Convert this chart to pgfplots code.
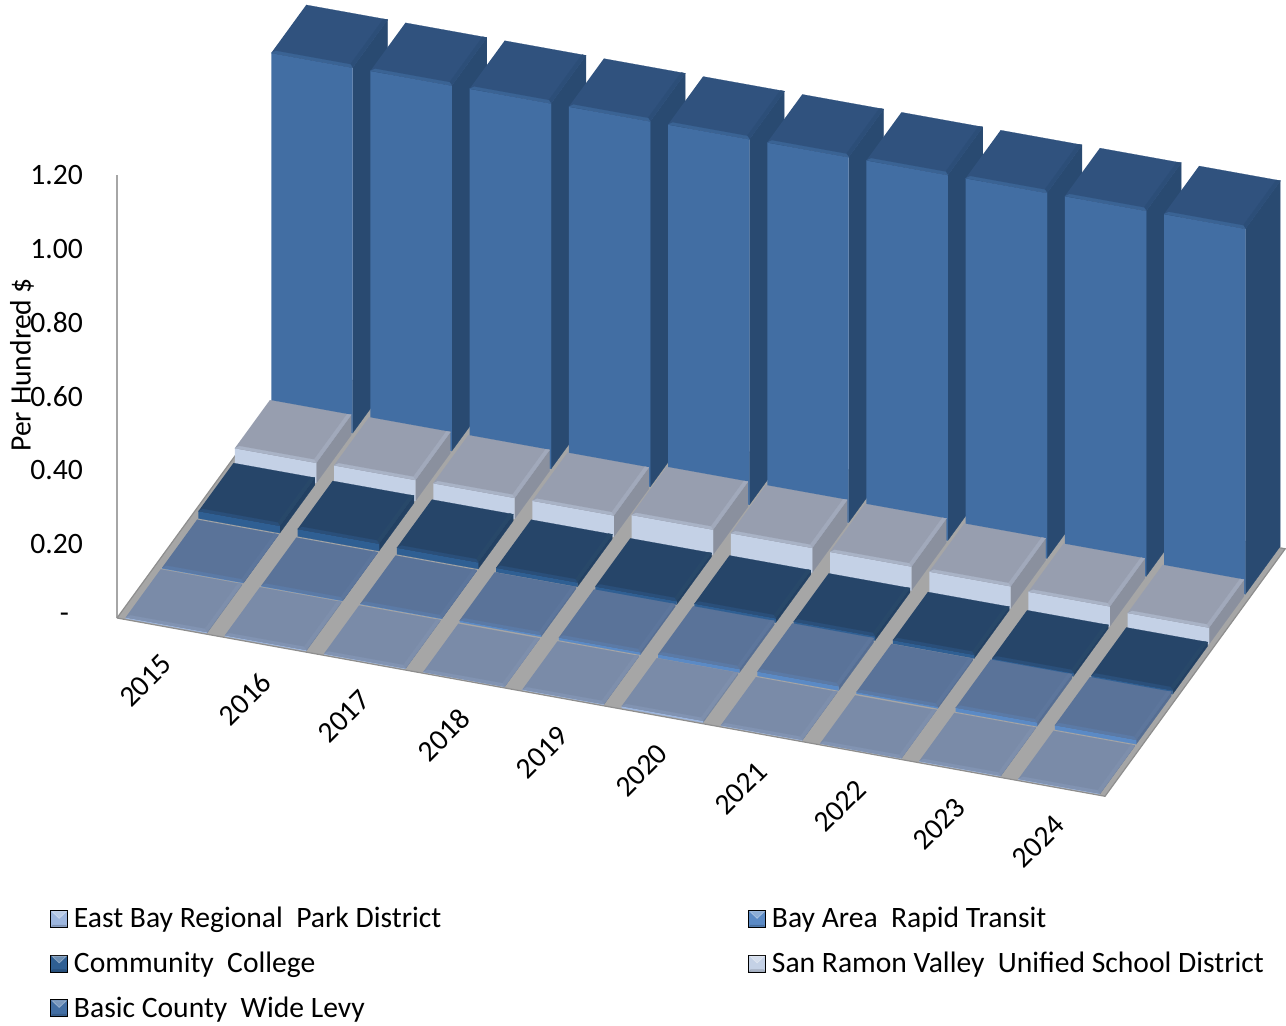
\documentclass[border=0pt]{standalone}
\usepackage{fontspec}
\setmainfont{Carlito}
\usepackage{pgfplots}
\pgfplotsset{compat=1.18}

% 1 px of the reference = 0.5pt
\definecolor{floorc}{HTML}{A6A6A6}
\definecolor{floore}{HTML}{8E8E8E}
\definecolor{baside}{HTML}{294A71}\definecolor{bafront}{HTML}{426EA3}\definecolor{batop}{HTML}{30527E}\definecolor{baedge}{HTML}{3A6394}\definecolor{baredge}{HTML}{2C4E78}
\definecolor{srside}{HTML}{8A909E}\definecolor{srfront}{HTML}{C4D1E6}\definecolor{srtop}{HTML}{979EAF}\definecolor{sredge}{HTML}{A9B3C6}\definecolor{srredge}{HTML}{A1A9BB}
\definecolor{ccside}{HTML}{234163}\definecolor{ccfront}{HTML}{2F5F93}\definecolor{cctop}{HTML}{264569}\definecolor{ccedge}{HTML}{2A4F7A}\definecolor{ccredge}{HTML}{284869}
\definecolor{btside}{HTML}{566E93}\definecolor{btfront}{HTML}{5B8AC5}\definecolor{bttop}{HTML}{5A7399}\definecolor{btedge}{HTML}{5B7AA6}\definecolor{btredge}{HTML}{5D769C}
\definecolor{ebside}{HTML}{74859F}\definecolor{ebfront}{HTML}{9DB6DE}\definecolor{ebtop}{HTML}{7A8BA8}\definecolor{ebedge}{HTML}{8193B2}\definecolor{ebredge}{HTML}{7E8FAC}

\newcommand\face[2]{\edef\tmp{\noexpand\addplot3[draw=#1,line width=0.1pt,fill=#1,forget plot] coordinates {#2};}\tmp}
\newcommand\cube[4]{%
  \pgfmathsetmacro\xa{#1+0.08}\pgfmathsetmacro\xb{#1+0.9}%
  \pgfmathsetmacro\ya{#2+0.02}\pgfmathsetmacro\yb{#2+0.98}%
  \pgfmathsetmacro\xc{\xb-0.04}\pgfmathsetmacro\xd{\xa+0.025}\pgfmathsetmacro\yc{\ya+0.05}%
  \face{#4side}{(\xb,\ya,0)(\xb,\yb,0)(\xb,\yb,#3)(\xb,\ya,#3)}%
  \face{#4front}{(\xa,\ya,0)(\xb,\ya,0)(\xb,\ya,#3)(\xa,\ya,#3)}%
  \face{#4top}{(\xa,\ya,#3)(\xb,\ya,#3)(\xb,\yb,#3)(\xa,\yb,#3)}%
  \face{#4redge}{(\xb,\ya,#3)(\xb,\yb,#3)(\xc,\yb,#3)(\xc,\yc,#3)}%
  \face{#4edge}{(\xa,\ya,#3)(\xb,\ya,#3)(\xc,\yc,#3)(\xd,\yc,#3)}%
}
% one series: depth slot, colour prefix, values 2015..2024
\newcommand\series[3]{%
  \def\cc{0}%
  \pgfplotsforeachungrouped \v in {#3}{%
    \cube{\cc}{#1}{\v}{#2}%
    \pgfmathtruncatemacro\cc{\cc+1}%
  }%
}

\begin{document}
\begin{tikzpicture}
\useasboundingbox (-58.5pt,-203.5pt) rectangle (584.5pt,309pt);
\begin{axis}[
  at={(0,0)},anchor=origin,
  x={(49.6pt,-8.95pt)},y={(18.2pt,25pt)},z={(0pt,184.6pt)},
  xmin=0,xmax=9.96,ymin=0,ymax=4.95,zmin=0,zmax=1.2,
  clip=false,
  axis lines=left,
  x axis line style={draw=none,-},
  y axis line style={draw=none,-},
  z axis line style={-,draw=floorc,line width=1.2pt},
  major tick length=0pt,
  ytick=\empty,
  xtick={0.5,1.5,...,9.5},
  xticklabels={2015,2016,2017,2018,2019,2020,2021,2022,2023,2024},
  ztick={0,0.2,0.4,0.6,0.8,1.0,1.2},
  zticklabels={-\rule{7pt}{0pt},0.20,0.40,0.60,0.80,1.00,1.20},
  tick label style={font=\fontsize{14.8}{17}\selectfont},
  x tick label style={rotate=45,anchor=north east,xshift=-7.9pt,yshift=-3.2pt},
  z tick label style={anchor=east,xshift=-13.5pt},
  zlabel={Per Hundred \$},
  every axis z label/.style={at={(axis cs:0,0,0.686)},rotate=90,anchor=center,yshift=47.5pt,font=\fontsize{14.8}{17}\selectfont},
  legend cell align=left,
  legend columns=2,
  legend style={at={(axis cs:0,0,0)},anchor=north west,xshift=-33.5pt,yshift=-142.5pt,
    draw=none,fill=none,font=\fontsize{14.8}{17}\selectfont,inner sep=0pt,
    /tikz/row sep=6.5pt,/tikz/column 2/.style={column sep=151.5pt}},
  legend image code/.code={%
    \fill[#1] (0pt,-4.2pt) rectangle (8.4pt,4.2pt);
    \fill[white,opacity=0.3] (0.6pt,3.8pt)--(7.8pt,3.8pt)--(4.2pt,0.4pt)--cycle;
    \fill[black,opacity=0.12] (0pt,-4.2pt)--(8.4pt,-4.2pt)--(7.4pt,-3pt)--(1pt,-3pt)--cycle;
    \path (9.4pt,0pt);
  },
]
\addlegendimage{fill=ebfront}\addlegendentry{East Bay Regional\ \ Park District}
\addlegendimage{fill=btfront}\addlegendentry{Bay Area\ \ Rapid Transit}
\addlegendimage{fill=ccfront}\addlegendentry{Community\ \ College}
\addlegendimage{fill=srfront}\addlegendentry{San Ramon Valley\ \ Unified School District}
\addlegendimage{fill=bafront}\addlegendentry{Basic County\ \ Wide Levy}

% floor
\addplot3[draw=floore,line width=0.6pt,fill=floorc,forget plot] coordinates {(0,0,0)(9.96,0,0)(9.96,4.95,0)(0,4.95,0)(0,0,0)};

\series{4}{ba}{0.99,0.99,0.99,0.99,0.99,0.99,0.99,0.99,0.99,0.99}
\series{3}{sr}{0.055,0.057,0.057,0.058,0.068,0.067,0.065,0.060,0.054,0.045}
\series{2}{cc}{0.020,0.020,0.018,0.012,0.010,0.012,0.012,0.010,0.009,0.011}
\series{1}{bt}{0.002,0.002,0.002,0.005,0.007,0.010,0.012,0.005,0.011,0.012}
\series{0}{eb}{0.003,0.003,0.002,0.001,0.002,0.005,0.002,0.001,0.002,0.002}
\end{axis}
\end{tikzpicture}
\end{document}
